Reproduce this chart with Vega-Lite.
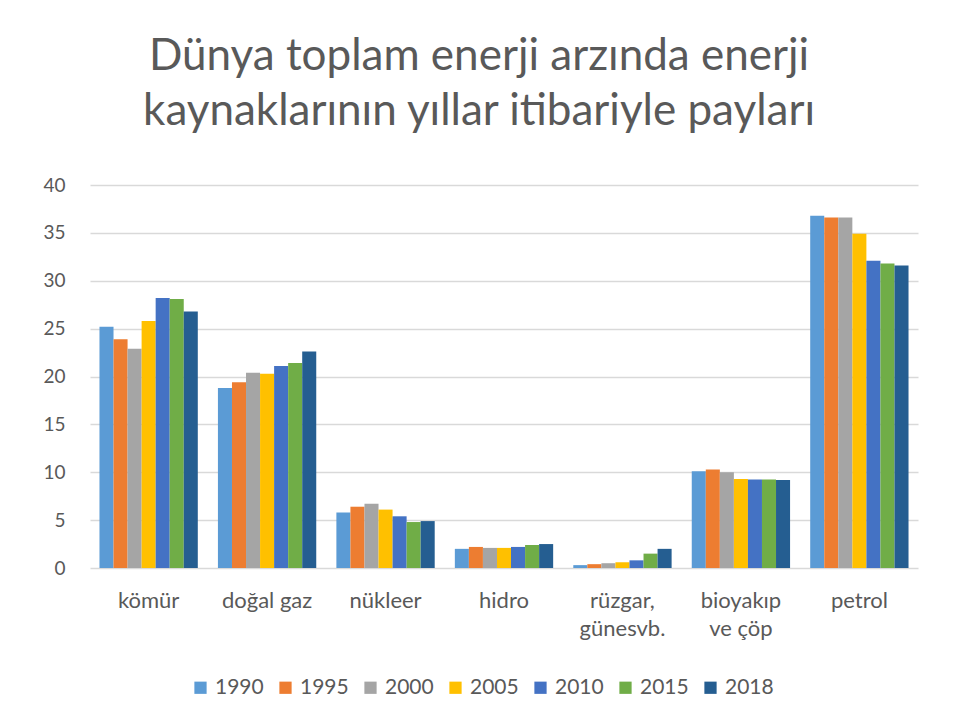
{
  "$schema": "https://vega.github.io/schema/vega-lite/v6.json",
  "autosize": {"type": "none"},
  "width": 828,
  "height": 383,
  "padding": {"left": 90, "top": 185, "right": 38, "bottom": 159},
  "background": "white",
  "title": {
    "text": ["Dünya toplam enerji arzında enerji", "kaynaklarının yıllar itibariyle payları"],
    "font": "Lato",
    "fontSize": 44,
    "fontWeight": "normal",
    "color": "#595959",
    "lineHeight": 55,
    "anchor": "middle",
    "dx": -25,
    "offset": 42
  },
  "data": {
    "values": [
      {"kaynak": "kömür", "yil": "1990", "pay": 25.2},
      {"kaynak": "kömür", "yil": "1995", "pay": 23.9},
      {"kaynak": "kömür", "yil": "2000", "pay": 22.9},
      {"kaynak": "kömür", "yil": "2005", "pay": 25.8},
      {"kaynak": "kömür", "yil": "2010", "pay": 28.2},
      {"kaynak": "kömür", "yil": "2015", "pay": 28.1},
      {"kaynak": "kömür", "yil": "2018", "pay": 26.8},
      {"kaynak": "doğal gaz", "yil": "1990", "pay": 18.8},
      {"kaynak": "doğal gaz", "yil": "1995", "pay": 19.4},
      {"kaynak": "doğal gaz", "yil": "2000", "pay": 20.4},
      {"kaynak": "doğal gaz", "yil": "2005", "pay": 20.3},
      {"kaynak": "doğal gaz", "yil": "2010", "pay": 21.1},
      {"kaynak": "doğal gaz", "yil": "2015", "pay": 21.4},
      {"kaynak": "doğal gaz", "yil": "2018", "pay": 22.6},
      {"kaynak": "nükleer", "yil": "1990", "pay": 5.8},
      {"kaynak": "nükleer", "yil": "1995", "pay": 6.4},
      {"kaynak": "nükleer", "yil": "2000", "pay": 6.7},
      {"kaynak": "nükleer", "yil": "2005", "pay": 6.1},
      {"kaynak": "nükleer", "yil": "2010", "pay": 5.4},
      {"kaynak": "nükleer", "yil": "2015", "pay": 4.8},
      {"kaynak": "nükleer", "yil": "2018", "pay": 4.9},
      {"kaynak": "hidro", "yil": "1990", "pay": 2.0},
      {"kaynak": "hidro", "yil": "1995", "pay": 2.2},
      {"kaynak": "hidro", "yil": "2000", "pay": 2.1},
      {"kaynak": "hidro", "yil": "2005", "pay": 2.1},
      {"kaynak": "hidro", "yil": "2010", "pay": 2.2},
      {"kaynak": "hidro", "yil": "2015", "pay": 2.4},
      {"kaynak": "hidro", "yil": "2018", "pay": 2.5},
      {"kaynak": "rüzgar, günesvb.", "yil": "1990", "pay": 0.3},
      {"kaynak": "rüzgar, günesvb.", "yil": "1995", "pay": 0.4},
      {"kaynak": "rüzgar, günesvb.", "yil": "2000", "pay": 0.5},
      {"kaynak": "rüzgar, günesvb.", "yil": "2005", "pay": 0.6},
      {"kaynak": "rüzgar, günesvb.", "yil": "2010", "pay": 0.8},
      {"kaynak": "rüzgar, günesvb.", "yil": "2015", "pay": 1.5},
      {"kaynak": "rüzgar, günesvb.", "yil": "2018", "pay": 2.0},
      {"kaynak": "bioyakıp ve çöp", "yil": "1990", "pay": 10.1},
      {"kaynak": "bioyakıp ve çöp", "yil": "1995", "pay": 10.3},
      {"kaynak": "bioyakıp ve çöp", "yil": "2000", "pay": 10.0},
      {"kaynak": "bioyakıp ve çöp", "yil": "2005", "pay": 9.3},
      {"kaynak": "bioyakıp ve çöp", "yil": "2010", "pay": 9.25},
      {"kaynak": "bioyakıp ve çöp", "yil": "2015", "pay": 9.25},
      {"kaynak": "bioyakıp ve çöp", "yil": "2018", "pay": 9.2},
      {"kaynak": "petrol", "yil": "1990", "pay": 36.8},
      {"kaynak": "petrol", "yil": "1995", "pay": 36.6},
      {"kaynak": "petrol", "yil": "2000", "pay": 36.6},
      {"kaynak": "petrol", "yil": "2005", "pay": 34.9},
      {"kaynak": "petrol", "yil": "2010", "pay": 32.1},
      {"kaynak": "petrol", "yil": "2015", "pay": 31.8},
      {"kaynak": "petrol", "yil": "2018", "pay": 31.6}
    ]
  },
  "mark": {"type": "bar"},
  "encoding": {
    "x": {
      "field": "kaynak",
      "type": "nominal",
      "sort": null,
      "scale": {"paddingInner": 0.17, "paddingOuter": 0.08},
      "axis": {
        "title": null,
        "labelAngle": 0,
        "labelFont": "Lato",
        "labelFontSize": 22,
        "labelColor": "#595959",
        "labelPadding": 22,
        "labelLineHeight": 28,
        "labelBaseline": "top",
        "domain": false,
        "ticks": false,
        "labelExpr": "datum.label == 'rüzgar, günesvb.' ? ['rüzgar,', 'günesvb.'] : datum.label == 'bioyakıp ve çöp' ? ['bioyakıp', 've çöp'] : datum.label"
      }
    },
    "xOffset": {"field": "yil", "type": "nominal"},
    "y": {
      "field": "pay",
      "type": "quantitative",
      "scale": {"domain": [0, 40]},
      "axis": {
        "title": null,
        "values": [0, 5, 10, 15, 20, 25, 30, 35, 40],
        "labelFont": "Lato",
        "labelFontSize": 19,
        "labelColor": "#595959",
        "labelPadding": 25,
        "domain": false,
        "ticks": false,
        "gridColor": "#d9d9d9",
        "gridWidth": 1.5
      }
    },
    "color": {
      "field": "yil",
      "type": "nominal",
      "scale": {
        "domain": ["1990", "1995", "2000", "2005", "2010", "2015", "2018"],
        "range": ["#5b9bd5", "#ed7d31", "#a5a5a5", "#ffc000", "#4472c4", "#70ad47", "#255e91"]
      },
      "legend": {
        "title": null,
        "orient": "none",
        "legendX": 100,
        "legendY": 492,
        "direction": "horizontal",
        "symbolType": "square",
        "symbolSize": 150,
        "symbolStrokeWidth": 0,
        "labelFont": "Lato",
        "labelFontSize": 21,
        "labelColor": "#595959",
        "columnPadding": 11,
        "labelOffset": 4
      }
    }
  },
  "config": {"view": {"stroke": null}}
}
